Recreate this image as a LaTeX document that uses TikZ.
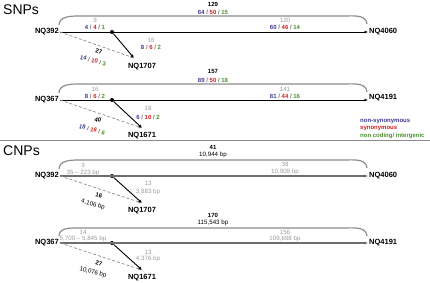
\documentclass[tikz,border=0pt]{standalone}
\usepackage{fontspec}
\setmainfont{Liberation Sans}
\usepackage{xcolor}
\usetikzlibrary{arrows.meta,calc}

\definecolor{nsyn}{RGB}{60,60,150}
\definecolor{syn}{RGB}{210,30,30}
\definecolor{nonc}{RGB}{75,145,45}
\definecolor{lgray}{RGB}{155,155,155}
\definecolor{mgray}{RGB}{140,140,140}
\definecolor{dgray}{RGB}{110,110,110}

\newcommand{\trip}[3]{\textcolor{nsyn}{#1} \textcolor{dgray}{/} \textcolor{syn}{#2} \textcolor{dgray}{/} \textcolor{nonc}{#3}}

\begin{document}
\begin{tikzpicture}[x=1pt, y=-1pt,
	lbl/.style={font=\fontsize{7.5}{8}\selectfont\bfseries, inner sep=1pt},
	num/.style={font=\fontsize{6}{7}\selectfont\bfseries, inner sep=0.5pt},
	gnum/.style={font=\fontsize{6.2}{7}\selectfont, text=lgray, inner sep=0.5pt},
	bnum/.style={font=\fontsize{6.2}{7}\selectfont, inner sep=0.5pt},
	brace/.style={draw=mgray, line width=1.2pt},
	snpline/.style={line width=0.9pt, -{Latex[length=3.5pt,width=3pt]}},
	cnpline/.style={draw=dgray, line width=1.4pt, -{Latex[length=3.5pt,width=3pt,fill=black]}},
	subarr/.style={line width=0.9pt, -{Latex[length=3.5pt,width=3pt]}},
	dsub/.style={draw=mgray, dash pattern=on 3pt off 2pt, line width=0.7pt, -{Latex[length=3.5pt,width=3pt]}},
	branch/.style={circle, fill, inner sep=0pt, minimum size=4pt},
	heading/.style={font=\fontsize{14}{16}\selectfont, inner sep=0pt, anchor=west},
	legend/.style={font=\fontsize{6}{7}\selectfont\bfseries, inner sep=0pt, anchor=west}]
	\useasboundingbox (0,0) rectangle (430,283);
	\node[heading] (snps) at (3,10) {SNPs};
	\node[heading] (cnps) at (3,151) {CNPs};
	\draw[mgray, line width=0.9pt] (0,140) -- (430,140);
	% SNPs, NQ392
	\begin{scope}[shift={(0,32)}]
		\node[lbl, anchor=east] (src1) at (60,0) {NQ392};
		\node[lbl, anchor=west] (dst1) at (368,0) {NQ4060};
		\node[lbl] (sub1) at (142,35) {NQ1707};
		\node[branch] (br1) at (112,0) {};
		\coordinate (tip1) at (134,26);
		\draw[brace] (59,-7) to[out=90,in=180] (80,-16) -- (343,-16) to[out=0,in=95] (367,-8);
		\draw[snpline] (src1.east) -- (dst1.west);
		\draw[dsub] (src1.east) -- (tip1);
		\draw[subarr] (br1) -- (tip1);
		\node[num] (t1) at (213,-28) {129};
		\node[num] (tc1) at (213,-20) {\trip{64}{50}{15}};
		\node[gnum] (a1) at (95,-12) {9};
		\node[num] (ac1) at (95,-5) {\trip{4}{4}{1}};
		\node[gnum] (b1) at (151,8) {16};
		\node[num] (bc1) at (151,15) {\trip{8}{6}{2}};
		\node[num, rotate=-15] (c1) at (99,19.5) {27};
		\node[num, rotate=-15] (cc1) at (93,28.5) {\trip{14}{10}{3}};
		\node[gnum] (d1) at (285,-12) {120};
		\node[num] (dc1) at (285,-5) {\trip{60}{46}{14}};
	\end{scope}
	% SNPs, NQ367
	\begin{scope}[shift={(0,100)}]
		\node[lbl, anchor=east] (src2) at (60,0) {NQ367};
		\node[lbl, anchor=west] (dst2) at (368,-2) {NQ4191};
		\node[lbl] (sub2) at (142,36) {NQ1671};
		\node[branch] (br2) at (112,0) {};
		\coordinate (tip2) at (142,28);
		\draw[brace] (59,-7) to[out=90,in=180] (80,-16) -- (343,-16) to[out=0,in=95] (367,-8);
		\draw[snpline] (src2.east) -- (dst2.west |- src2.east);
		\draw[dsub] (src2.east) -- (tip2);
		\draw[subarr] (br2) -- (tip2);
		\node[num] (t2) at (213,-29) {157};
		\node[num] (tc2) at (213,-20) {\trip{89}{50}{18}};
		\node[gnum] (a2) at (95,-11) {16};
		\node[num] (ac2) at (95,-4) {\trip{8}{6}{2}};
		\node[gnum] (b2) at (148,8) {18};
		\node[num] (bc2) at (148,17) {\trip{6}{10}{2}};
		\node[num, rotate=-15] (c2) at (98,20) {40};
		\node[num, rotate=-15] (cc2) at (92,29.5) {\trip{18}{16}{6}};
		\node[gnum] (d2) at (285,-11) {141};
		\node[num] (dc2) at (285,-4) {\trip{81}{44}{16}};
	\end{scope}
	% legend
	\node[legend, text=nsyn] (leg1) at (360,122) {non-synonymous};
	\node[legend, text=syn] (leg2) at (360,129) {synonymous};
	\node[legend, text=nonc] (leg3) at (360,136) {non coding/ intergenic};
	% CNPs, NQ392
	\begin{scope}[shift={(0,176)}]
		\node[lbl, anchor=east] (src3) at (60,0) {NQ392};
		\node[lbl, anchor=west] (dst3) at (368,0) {NQ4060};
		\node[lbl] (sub3) at (142,35) {NQ1707};
		\node[branch] (br3) at (112,0) {};
		\coordinate (tip3) at (142,27);
		\draw[brace] (59,-7) to[out=90,in=180] (80,-16) -- (343,-16) to[out=0,in=95] (367,-8);
		\draw[cnpline] (src3.east) -- (dst3.west);
		\draw[dsub] (src3.east) -- (tip3);
		\draw[subarr] (br3) -- (tip3);
		\node[num] (t3) at (213,-29) {41};
		\node[bnum] (tc3) at (213,-21) {10,944~bp};
		\node[gnum] (a3) at (83,-11) {3};
		\node[gnum] (ac3) at (83,-3) {35 -- 223 bp};
		\node[gnum] (b3) at (148,7) {13};
		\node[gnum] (bc3) at (148,16) {3,883 bp};
		\node[num, rotate=-15] (c3) at (99,19.5) {16};
		\node[bnum, rotate=-15] (cc3) at (93,28.5) {4,106 bp};
		\node[gnum] (d3) at (285,-12) {38};
		\node[gnum] (dc3) at (285,-4) {10,909 bp};
	\end{scope}
	% CNPs, NQ367
	\begin{scope}[shift={(0,243)}]
		\node[lbl, anchor=east] (src4) at (60,0) {NQ367};
		\node[lbl, anchor=west] (dst4) at (368,0) {NQ4191};
		\node[lbl] (sub4) at (142,35) {NQ1671};
		\node[branch] (br4) at (112,0) {};
		\coordinate (tip4) at (142,27);
		\draw[brace] (59,-7) to[out=90,in=180] (80,-15) -- (343,-15) to[out=0,in=95] (367,-7);
		\draw[cnpline] (src4.east) -- (dst4.west);
		\draw[dsub] (src4.east) -- (tip4);
		\draw[subarr] (br4) -- (tip4);
		\node[num] (t4) at (213,-28) {170};
		\node[bnum] (tc4) at (213,-20) {115,543 bp};
		\node[gnum] (a4) at (83,-11) {14};
		\node[gnum] (ac4) at (83,-4) {5,700 -- 5,845 bp};
		\node[gnum] (b4) at (148,9) {13};
		\node[gnum] (bc4) at (148,15.5) {4,376 bp};
		\node[num, rotate=-15] (c4) at (99,20) {27};
		\node[bnum, rotate=-15] (cc4) at (93,29.5) {10,076 bp};
		\node[gnum] (d4) at (285,-11) {156};
		\node[gnum] (dc4) at (285,-4) {109,698 bp};
	\end{scope}
\end{tikzpicture}
\end{document}
